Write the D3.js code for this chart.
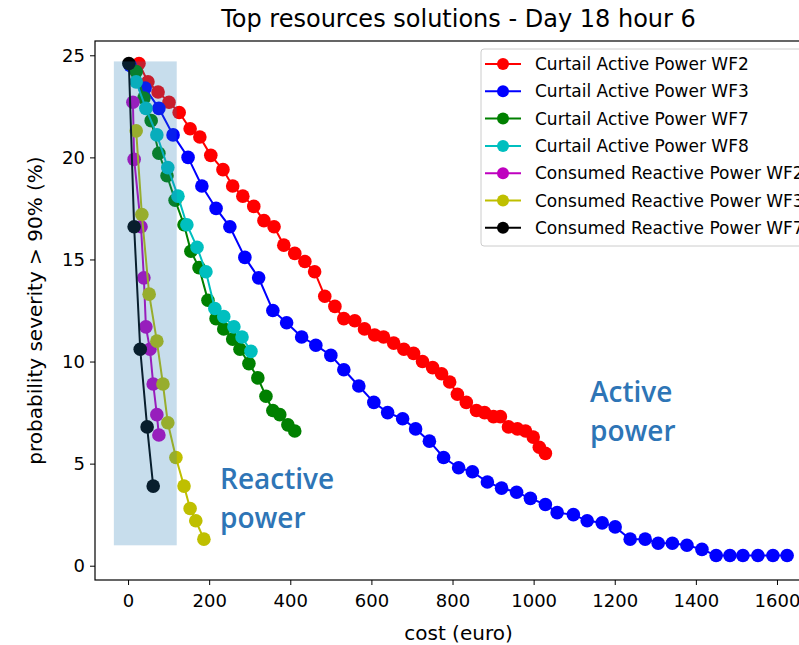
<!DOCTYPE html>
<html>
<head>
<meta charset="utf-8">
<script src="https://cdn.jsdelivr.net/npm/d3@7"></script>
<style>
body { margin: 0; background: #fff; }
text { font-family: "DejaVu Sans", sans-serif; fill: #000; }
</style>
</head>
<body>
<svg id="chart" width="799" height="645"></svg>
<script>
// cost (euro), probability severity (%)
const curtailWF2 = [[27,24.6],[49,23.7],[74,23.2],[101,22.7],[126,22.2],[153,21.4],[177,21.0],[204,20.1],[234,19.4],[258,18.6],[283,18.1],[310,17.6],[335,16.9],[360,16.6],[384,15.7],[411,15.3],[436,14.9],[460,14.4],[485,13.2],[510,12.7],[532,12.1],[559,12.0],[583,11.6],[608,11.3],[630,11.2],[655,10.9],[680,10.6],[704,10.4],[726,10.0],[751,9.7],[773,9.4],[793,9.0],[812,8.4],[834,8.0],[859,7.6],[879,7.5],[901,7.3],[918,7.3],[938,6.8],[960,6.7],[980,6.6],[999,6.3],[1014,5.8],[1029,5.5]];
const curtailWF3 = [[5,24.5],[42,23.4],[76,22.4],[111,21.1],[148,20.0],[182,18.6],[217,17.5],[251,16.6],[288,15.1],[322,14.1],[357,12.5],[391,11.9],[428,11.2],[463,10.8],[500,10.3],[532,9.6],[569,8.8],[606,8.0],[640,7.5],[677,7.2],[709,6.7],[743,6.1],[778,5.3],[815,4.8],[849,4.6],[886,4.1],[921,3.8],[958,3.6],[992,3.3],[1029,3.0],[1058,2.6],[1098,2.5],[1132,2.2],[1169,2.1],[1201,1.9],[1238,1.3],[1275,1.3],[1307,1.1],[1342,1.1],[1378,1.0],[1415,0.8],[1450,0.5],[1484,0.5],[1516,0.5],[1553,0.5],[1590,0.5],[1625,0.5]];
const curtailWF7 = [[20,24.2],[39,22.9],[57,21.8],[76,20.2],[96,19.1],[116,17.9],[138,16.7],[155,15.4],[175,14.6],[197,13.0],[217,12.1],[236,11.6],[258,11.1],[276,10.6],[298,9.9],[320,9.2],[340,8.3],[357,7.6],[374,7.4],[394,6.9],[411,6.6]];
const curtailWF8 = [[20,23.7],[44,22.4],[71,21.1],[98,19.5],[123,18.1],[145,16.7],[170,15.6],[192,14.4],[214,12.6],[236,12.2],[261,11.7],[281,11.2],[303,10.5]];
const reactiveWF2 = [[12,22.7],[15,19.9],[32,16.6],[39,14.1],[44,11.7],[54,10.6],[62,8.9],[71,7.4],[76,6.4]];
const reactiveWF3 = [[20,21.3],[34,17.2],[52,13.3],[71,11.0],[86,8.9],[98,7.0],[118,5.3],[138,3.9],[153,2.8],[167,2.2],[187,1.3]];
const reactiveWF7 = [[2,24.6],[15,16.6],[30,10.6],[47,6.8],[62,3.9]];

const seriesNames = ["Curtail Active Power WF2","Curtail Active Power WF3","Curtail Active Power WF7","Curtail Active Power WF8",
  "Consumed Reactive Power WF2","Consumed Reactive Power WF3","Consumed Reactive Power WF7"];
const seriesColors = ["#ff0000","#0000ff","#008000","#00bfbf","#bf00bf","#bfbf00","#000000"];
const xTicks = [0,200,400,600,800,1000,1200,1400,1600];
const yTicks = [0,5,10,15,20,25];
const shadeX = [-35,120];
const shadeY = [1,24.7];

let allSeries = [curtailWF2,curtailWF3,curtailWF7,curtailWF8,reactiveWF2,reactiveWF3,reactiveWF7];

let svg = d3.select("#chart");
let mLeft = 95, mRight = 822, mTop = 41, mBottom = 580;

let x = d3.scaleLinear().domain([-81.5,1711]).range([mLeft,mRight]);
let y = d3.scaleLinear().domain([-0.7,25.7]).range([mBottom,mTop]);

let plot = svg.append("g");

let line = d3.line()
    .x(function(d){ return x(d[0]); })
    .y(function(d){ return y(d[1]); });

allSeries.forEach(function(s,i){
    let g = plot.append("g");
    g.append("path")
        .attr("d", line(s))
        .attr("fill","none")
        .attr("stroke", seriesColors[i])
        .attr("stroke-width", 2);
    g.selectAll("circle")
        .data(s)
        .enter().append("circle")
            .attr("cx", function(d){ return x(d[0]); })
            .attr("cy", function(d){ return y(d[1]); })
            .attr("r", 6.8)
            .attr("fill", seriesColors[i]);
});

// shaded region drawn over the reactive series
plot.append("rect")
    .attr("x", x(shadeX[0]))
    .attr("y", y(shadeY[1]))
    .attr("width", x(shadeX[1]) - x(shadeX[0]))
    .attr("height", y(shadeY[0]) - y(shadeY[1]))
    .attr("fill", "#1f77b4")
    .attr("fill-opacity", 0.25);

// axes
svg.append("g")
    .attr("transform","translate(0," + mBottom + ")")
    .call(d3.axisBottom(x).tickValues(xTicks).tickSize(5).tickPadding(9).tickFormat(d3.format("d")))
    .call(function(g){
        g.select(".domain").remove();
        g.selectAll("text").style("font-size","18px").style("font-family","DejaVu Sans");
    });
svg.append("g")
    .attr("transform","translate(" + mLeft + ",0)")
    .call(d3.axisLeft(y).tickValues(yTicks).tickSize(5).tickPadding(5))
    .call(function(g){
        g.select(".domain").remove();
        g.selectAll("text").style("font-size","18px").style("font-family","DejaVu Sans");
    });

svg.append("rect")
    .attr("x", mLeft).attr("y", mTop)
    .attr("width", mRight - mLeft).attr("height", mBottom - mTop)
    .attr("fill","none").attr("stroke","#000").attr("stroke-width",1.2);

svg.append("text")
    .attr("x", (mLeft + mRight) / 2).attr("y", 27)
    .attr("text-anchor","middle")
    .style("font-size","24px")
    .text("Top resources solutions - Day 18 hour 6");

svg.append("text")
    .attr("x", (mLeft + mRight) / 2).attr("y", 640)
    .attr("text-anchor","middle")
    .style("font-size","20px")
    .text("cost (euro)");

svg.append("text")
    .attr("transform","translate(42," + ((mTop + mBottom) / 2) + ")rotate(-90)")
    .attr("text-anchor","middle")
    .style("font-size","20px")
    .text("probability severity > 90% (%)");

// annotations
let notes = [["Reactive", 220, 489], ["power", 220, 528], ["Active", 590, 402], ["power", 590, 441]];
svg.selectAll(".note")
    .data(notes)
    .enter().append("text")
        .attr("class","note")
        .attr("x", function(d){ return d[1]; })
        .attr("y", function(d){ return d[2]; })
        .style("font-family","'Open Sans', sans-serif")
        .style("font-weight","600")
        .style("font-size","28px")
        .style("fill","#2e75b6")
        .text(function(d){ return d[0]; });

// legend
let legend = svg.append("g");
legend.append("rect")
    .attr("x", 481).attr("y", 49)
    .attr("width", 360).attr("height", 197)
    .attr("rx", 3)
    .attr("fill","#fff").attr("fill-opacity",0.8)
    .attr("stroke","#ccc");
seriesNames.forEach(function(n,i){
    let ly = 64 + i * 27.3;
    legend.append("line")
        .attr("x1", 485).attr("x2", 521)
        .attr("y1", ly).attr("y2", ly)
        .attr("stroke", seriesColors[i]).attr("stroke-width", 2);
    legend.append("circle")
        .attr("cx", 503).attr("cy", ly).attr("r", 6)
        .attr("fill", seriesColors[i]);
    legend.append("text")
        .attr("x", 535).attr("y", ly + 6)
        .style("font-size","17px")
        .text(n);
});
</script>
</body>
</html>
